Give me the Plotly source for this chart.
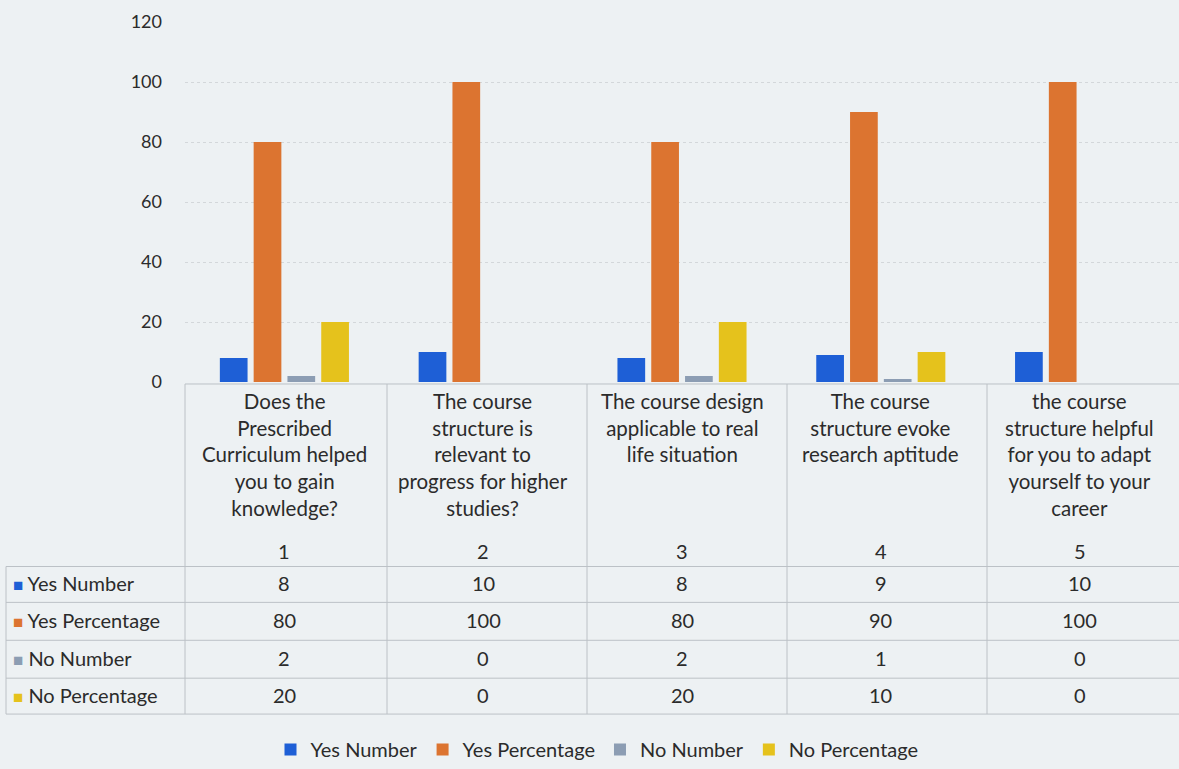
import plotly.graph_objects as go

questions = [
    "Does the<br>Prescribed<br>Curriculum helped<br>you to gain<br>knowledge?",
    "The course<br>structure is<br>relevant to<br>progress for higher<br>studies?",
    "The course design<br>applicable to real<br>life situation",
    "The course<br>structure evoke<br>research aptitude",
    "the course<br>structure helpful<br>for you to adapt<br>yourself to your<br>career",
]
numbers = ["1", "2", "3", "4", "5"]
series_names = ["Yes Number", "Yes Percentage", "No Number", "No Percentage"]
yes_number = [8, 10, 8, 9, 10]
yes_percentage = [80, 100, 80, 90, 100]
no_number = [2, 0, 2, 1, 0]
no_percentage = [20, 0, 20, 10, 0]
y_ticks = [0, 20, 40, 60, 80, 100, 120]

series_values = [yes_number, yes_percentage, no_number, no_percentage]
colors = ["#1E5FD6", "#DC7430", "#8C9DB3", "#E5C21C"]

W, H = 1179, 769
L, R, T, B = 185, 0, 22, 386
plot_h = H - T - B
plot_w = W - L - R


def py(ypx):
    return (H - B - ypx) / plot_h


def px(xpx):
    return (xpx - L) / plot_w


fig = go.Figure()
for name, vals, col in zip(series_names, series_values, colors):
    fig.add_trace(go.Bar(x=numbers, y=vals, name=name, marker_color=col,
                         marker_line_width=0))

font = "Lato, 'Open Sans', sans-serif"
txt = "#2b2b2b"
grid = "#d3d7da"

annotations = []
for i, (q, n) in enumerate(zip(questions, numbers)):
    annotations.append(dict(x=i, xref="x", y=py(388), yref="paper", yanchor="top",
                            text=q, showarrow=False, align="center",
                            font=dict(size=20.5, color=txt, family=font)))
    annotations.append(dict(x=i, xref="x", y=py(552), yref="paper", yanchor="middle",
                            text=n, showarrow=False,
                            font=dict(size=20, color=txt, family=font)))

row_centers = [585, 622, 660, 697]
for name, vals, col, yc in zip(series_names, series_values, colors, row_centers):
    annotations.append(dict(x=px(11), xref="paper", y=py(yc), yref="paper",
                            xanchor="left", yanchor="middle", showarrow=False,
                            text=f"<span style='color:{col};font-size:17px'>■</span> {name}",
                            font=dict(size=20, color=txt, family=font)))
    for i, v in enumerate(vals):
        annotations.append(dict(x=i, xref="x", y=py(yc), yref="paper",
                                yanchor="middle", showarrow=False, text=str(v),
                                font=dict(size=20, color=txt, family=font)))

shapes = []
line = dict(color="#bcc1c6", width=1)
shapes.append(dict(type="line", xref="paper", yref="paper", x0=px(185), x1=px(1179),
                   y0=py(385), y1=py(385), line=line))
for xv in [185, 387, 587, 787, 987]:
    shapes.append(dict(type="line", xref="paper", yref="paper", x0=px(xv), x1=px(xv),
                       y0=py(385), y1=py(716), line=line))
shapes.append(dict(type="line", xref="paper", yref="paper", x0=px(6), x1=px(6),
                   y0=py(568), y1=py(716), line=line))
for yv in [568, 604, 642, 680, 716]:
    shapes.append(dict(type="line", xref="paper", yref="paper", x0=px(6), x1=px(1179),
                       y0=py(yv), y1=py(yv), line=line))

fig.update_layout(
    width=W, height=H,
    margin=dict(l=L, r=R, t=T, b=B),
    paper_bgcolor="#EDF1F3",
    plot_bgcolor="#EDF1F3",
    barmode="group",
    bargap=0.32,
    bargroupgap=0.18,
    font=dict(family=font, color=txt),
    xaxis=dict(showticklabels=False, showgrid=False, zeroline=False, showline=False,
               ticks=""),
    yaxis=dict(range=[0, 120], tickvals=y_ticks, showgrid=True, gridcolor=grid,
               griddash="dot", gridwidth=1, zeroline=False, showline=False,
               tickfont=dict(size=18, color=txt, family=font), ticklabelstandoff=22),
    legend=dict(orientation="h", x=px(597), xanchor="center", y=py(752),
                yanchor="middle", font=dict(size=20, color=txt, family=font),
                bgcolor="rgba(0,0,0,0)"),
    annotations=annotations,
    shapes=shapes,
)

fig.write_html("out.html", config={"displayModeBar": False},
               post_script="document.body.style.margin='0';document.body.style.overflow='hidden';")
